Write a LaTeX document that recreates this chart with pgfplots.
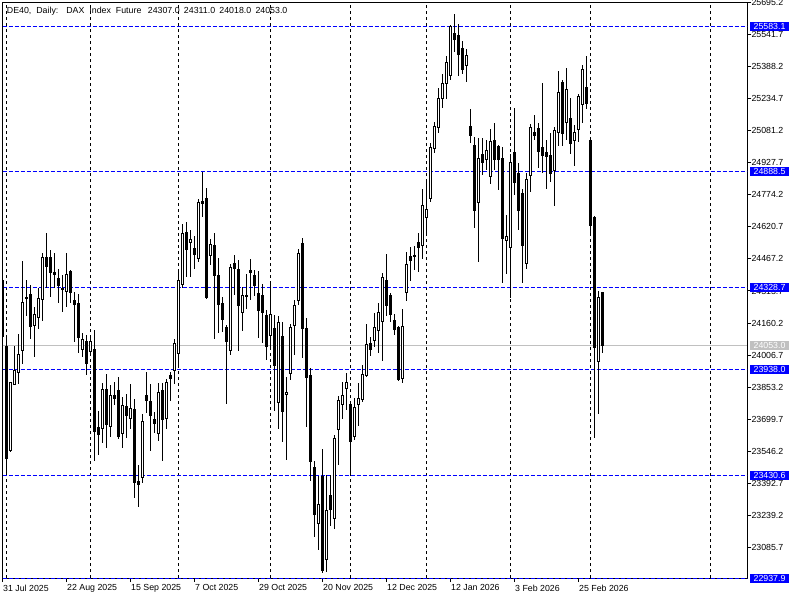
\documentclass[border=0pt]{standalone}
\usepackage{pgfplots}
\pgfplotsset{compat=1.18}
\usepackage{pgfplotstable}
\usepackage{fontspec}
\setmainfont{Liberation Sans}
\newcommand{\mtfont}{\fontsize{8.8bp}{10bp}\selectfont}
\definecolor{lvl}{RGB}{0,0,255}
\definecolor{bidgray}{RGB}{192,192,192}

\pgfplotstableread{
i O H L C
0 24362 24371 24093 24098
1 24050 24098 23443 23510
2 23549 23878 23542 23873
3 23868 24050 23863 23935
4 23922 24106 23867 24010
5 24030 24458 23963 24260
6 24285 24367 24194 24280
7 24299 24343 24082 24143
8 24149 24236 23999 24202
9 24188 24327 24130 24279
10 24271 24494 24170 24475
11 24475 24593 24327 24430
12 24475 24510 24286 24401
13 24401 24494 24327 24392
14 24375 24418 24255 24339
15 24328 24390 24215 24323
16 24312 24494 24236 24395
17 24408 24414 24255 24306
18 24266 24310 24071 24250
19 24255 24299 24015 24092
20 24034 24111 23999 24082
21 24074 24103 23910 23967
22 24026 24095 24007 24074
23 24034 24127 23501 23640
24 23661 23739 23528 23624
25 23656 23872 23587 23843
26 23843 23916 23560 23675
27 23664 23863 23616 23811
28 23814 23876 23768 23800
29 23835 23903 23603 23616
30 23632 23804 23563 23766
31 23759 23820 23608 23718
32 23704 23868 23653 23750
33 23744 23796 23321 23395
34 23403 23480 23280 23386
35 23421 23724 23392 23686
36 23815 23926 23728 23790
37 23782 23868 23549 23716
38 23699 23735 23635 23678
39 23632 23873 23595 23828
40 23835 23872 23501 23699
41 23702 23892 23653 23876
42 23908 23927 23787 23894
43 23935 24084 23867 24063
44 24015 24403 23959 24362
45 24343 24635 24328 24590
46 24595 24644 24382 24514
47 24547 24606 24382 24562
48 24518 24577 24421 24491
49 24470 24753 24453 24739
50 24744 24885 24667 24732
51 24755 24806 24275 24282
52 24483 24563 24438 24538
53 24534 24593 24084 24387
54 24390 24470 24114 24248
55 24255 24286 24119 24175
56 24141 24151 23772 24071
57 24028 24442 24007 24427
58 24447 24486 24295 24423
59 24418 24462 24028 24243
60 24212 24334 24124 24293
61 24290 24394 24229 24293
62 24410 24467 24271 24403
63 24390 24414 24291 24339
64 24303 24410 24087 24219
65 24293 24346 24063 24212
66 24194 24223 23983 24047
67 24100 24346 24037 24202
68 24135 24199 23740 23956
69 23780 24195 23651 24164
70 24098 24167 23590 23735
71 23819 23900 23504 23828
72 23919 24154 23887 24140
73 24148 24271 24007 24242
74 24267 24515 24247 24491
75 24539 24566 23994 24132
76 24132 24183 23664 23898
77 23911 23943 23405 23496
78 23466 23501 23134 23244
79 23201 23427 23072 23293
80 23427 23557 22961 22974
81 23028 23432 22969 23264
82 23335 23432 23188 23268
83 23225 23624 23173 23608
84 23651 23812 23480 23787
85 23768 23876 23700 23815
86 23846 23919 23744 23876
87 23768 23783 23443 23592
88 23616 23801 23600 23757
89 23771 23872 23668 23800
90 23796 23959 23782 23915
91 23911 24156 23902 24055
92 24060 24095 24004 24034
93 24076 24207 24047 24138
94 24124 24255 24015 24212
95 24167 24401 23980 24379
96 24362 24491 24195 24242
97 24290 24303 24164 24202
98 24170 24202 24103 24127
99 24138 24146 23883 23892
100 23895 24228 23873 24146
101 24308 24502 24267 24443
102 24481 24526 24362 24459
103 24486 24529 24414 24478
104 24547 24590 24406 24521
105 24531 24803 24467 24723
106 24665 24838 24590 24702
107 24755 25022 24742 25002
108 24998 25122 24974 25101
109 25096 25288 25072 25237
110 25237 25354 25189 25309
111 25309 25440 25235 25410
112 25345 25588 25325 25583
113 25549 25641 25460 25520
114 25539 25593 25345 25448
115 25477 25513 25354 25376
116 25395 25472 25317 25443
117 25104 25186 25024 25061
118 25013 25050 24617 24699
119 24739 25047 24454 24950
120 24969 25045 24870 24929
121 24945 25037 24894 24986
122 24863 25090 24827 25031
123 25037 25117 24894 24945
124 25004 25013 24798 24945
125 24950 25005 24354 24563
126 24558 24678 24395 24574
127 24521 24970 24279 24930
128 24978 25189 24774 24833
129 24878 24929 24606 24699
130 24782 24801 24354 24531
131 24447 24878 24418 24850
132 24865 25114 24787 25098
133 25072 25157 25037 25058
134 25093 25117 24902 24981
135 25002 25309 24878 24962
136 24976 25037 24801 24957
137 24961 25069 24838 24878
138 24889 25101 24723 25082
139 25072 25369 25010 25266
140 25314 25325 25010 25069
141 25122 25381 25037 25280
142 25141 25240 24970 25022
143 25033 25109 24914 25074
144 25089 25256 25026 25248
145 25208 25397 25120 25376
146 25290 25440 25184 25213
147 25033 25053 24593 24630
148 24667 24671 23611 24044
149 23975 24315 23723 24284
150 24307 24311 24018 24053
}\ohlc

\begin{document}
\begin{tikzpicture}
\fill[white] (0,0) rectangle (800bp,600bp);
\path[use as bounding box] (0,0) rectangle (800bp,600bp);
\begin{axis}[
  at={(2.5bp,21.9bp)}, anchor=south west,
  width=744.8bp, height=575.4bp, scale only axis,
  xmin=0, xmax=186.2, ymin=22937.9, ymax=25695.2,
  clip mode=individual,
  axis line style={line width=1bp, black},
  tick align=outside, major tick length=4bp,
  tick style={black, line width=1bp},
  xtick pos=bottom, ytick pos=right,
  xtick={0,16,32,48,64,80,96,112,128,144},
  xticklabels={31 Jul 2025,22 Aug 2025,15 Sep 2025,7 Oct 2025,29 Oct 2025,20 Nov 2025,12 Dec 2025,12 Jan 2026,3 Feb 2026,25 Feb 2026},
  xticklabel style={font=\mtfont, anchor=north west, inner sep=0pt, xshift=0.5bp, yshift=-2.5bp},
  ytick={25695.2,25541.7,25388.2,25234.7,25081.2,24927.7,24774.2,24620.7,24467.2,24313.7,24160.2,24006.7,23853.2,23699.7,23546.2,23392.7,23239.2,23085.7},
  yticklabels={25695.2,25541.7,25388.2,25234.7,25081.2,24927.7,24774.2,24620.7,24467.2,24313.7,24160.2,24006.7,23853.2,23699.7,23546.2,23392.7,23239.2,23085.7},
  yticklabel style={font=\mtfont, anchor=west, inner sep=0pt},
  extra x ticks={1,22,44,67,87,106,127,147,177},
  extra x tick labels={},
  extra x tick style={xmajorgrids=true, major tick length=0pt},
  major grid style={black, line width=1bp, dash pattern=on 3bp off 3bp},
]
% bid line and level lines
\addplot[bidgray, line width=1bp, forget plot] coordinates {(0,24053.0) (186.2,24053.0)};
\addplot[lvl, line width=1bp, dash pattern=on 4bp off 2bp, forget plot] coordinates {(0,25583.1) (186.2,25583.1)};
\addplot[lvl, line width=1bp, dash pattern=on 4bp off 2bp, forget plot] coordinates {(0,24888.5) (186.2,24888.5)};
\addplot[lvl, line width=1bp, dash pattern=on 4bp off 2bp, forget plot] coordinates {(0,24328.7) (186.2,24328.7)};
\addplot[lvl, line width=1bp, dash pattern=on 4bp off 2bp, forget plot] coordinates {(0,23938.0) (186.2,23938.0)};
\addplot[lvl, line width=1bp, dash pattern=on 4bp off 2bp, forget plot] coordinates {(0,23430.6) (186.2,23430.6)};
\addplot[lvl, line width=1bp, dash pattern=on 4bp off 2bp, forget plot] coordinates {(0,22937.9) (186.2,22937.9)};
% wicks
\addplot[draw=none, mark=none, forget plot,
  error bars/.cd, y dir=both, y explicit, error mark=none,
  error bar style={draw=black, line width=1bp, solid}]
  table[x=i, y expr={(\thisrow{H}+\thisrow{L})/2}, y error expr={(\thisrow{H}-\thisrow{L})/2}] {\ohlc};
% bodies
\addplot[draw=none, mark=none, forget plot,
  error bars/.cd, y dir=both, y explicit, error mark=none,
  error bar style={draw=black, line width=3bp, solid}]
  table[x=i, y expr={(\thisrow{O}+\thisrow{C})/2}, y error expr={abs(\thisrow{C}-\thisrow{O})/2+2.4}] {\ohlc};
% hollow interior of rising candles
\addplot[draw=none, mark=none, forget plot,
  error bars/.cd, y dir=both, y explicit, error mark=none,
  error bar style={draw=white, line width=1bp, solid}]
  table[x=i, y expr={(\thisrow{O}+\thisrow{C})/2}, y error expr={ifthenelse(\thisrow{C}>\thisrow{O}, max(abs(\thisrow{C}-\thisrow{O})/2-2.4,0), 0)}] {\ohlc};
\coordinate (tl) at (rel axis cs:0,1);
\coordinate (b1) at (axis cs:186.2,25583.1);
\coordinate (b2) at (axis cs:186.2,24888.5);
\coordinate (b3) at (axis cs:186.2,24328.7);
\coordinate (b4) at (axis cs:186.2,23938.0);
\coordinate (b5) at (axis cs:186.2,23430.6);
\coordinate (b6) at (axis cs:186.2,22937.9);
\coordinate (bg) at (axis cs:186.2,24053.0);
\end{axis}
\tikzset{lbox/.style={fill=lvl, text=white, font=\mtfont, anchor=west, minimum width=38.7bp, minimum height=9bp, inner sep=0pt}}
\node[lbox] at ([xshift=2.7bp]b1) {25583.1};
\node[lbox] at ([xshift=2.7bp]b2) {24888.5};
\node[lbox] at ([xshift=2.7bp]b3) {24328.7};
\node[lbox] at ([xshift=2.7bp]b4) {23938.0};
\node[lbox] at ([xshift=2.7bp]b5) {23430.6};
\node[lbox] at ([xshift=2.7bp]b6) {22937.9};
\node[lbox, fill=bidgray] at ([xshift=2.7bp]bg) {24053.0};
\node[anchor=north west, inner sep=0pt, font=\mtfont] at ([xshift=4.2bp, yshift=-4bp]tl) {DE40,\hspace{5bp}Daily:\hspace{8bp}DAX\hspace{5bp}Index\hspace{5bp}Future};
\node[anchor=north west, inner sep=0pt, font=\mtfont] at ([xshift=145.2bp, yshift=-4bp]tl) {24307.0\hspace{4.3bp}24311.0\hspace{4.3bp}24018.0\hspace{4.3bp}24053.0};
\end{tikzpicture}
\end{document}
